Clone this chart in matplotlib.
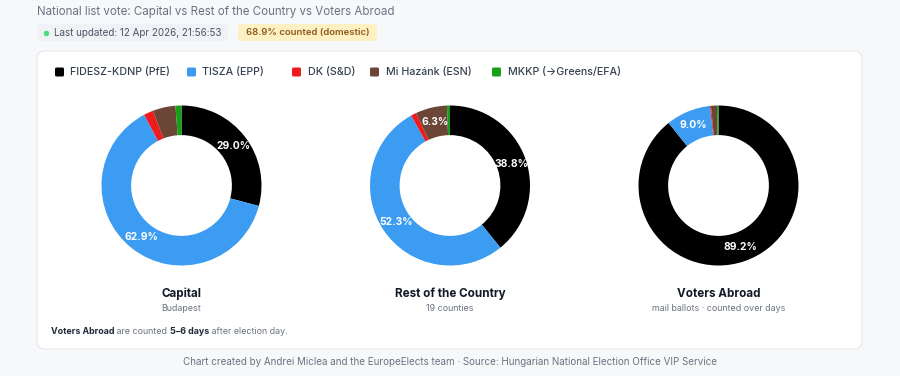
import numpy as np
import matplotlib.pyplot as plt
from matplotlib.patches import FancyBboxPatch

plt.rcParams['font.family'] = ['Inter', 'DejaVu Sans']

# data
parties = ['FIDESZ-KDNP (PfE)', 'TISZA (EPP)', 'DK (S&D)', 'Mi Hazánk (ESN)', 'MKKP (→Greens/EFA)']
colors = ['#000000', '#3b9cf2', '#ee1c1c', '#6b4536', '#16a016']

regions = ['Capital', 'Rest of the Country', 'Voters Abroad']
subtitles = ['Budapest', '19 counties', 'mail ballots · counted over days']

capital = [29.0, 62.9, 1.9, 4.6, 1.2]
rest = [38.8, 52.3, 1.1, 6.3, 0.6]
abroad = [89.2, 9.0, 0.2, 1.2, 0.3]
shares = [capital, rest, abroad]

W, H = 900, 376
fig = plt.figure(figsize=(W / 100, H / 100), dpi=100)
fig.patch.set_facecolor('#f7f8fa')

bg = fig.add_axes([0, 0, 1, 1])
bg.set_xlim(0, W)
bg.set_ylim(H, 0)
bg.axis('off')


def rbox(x0, y0, x1, y1, r, fc, ec='none', lw=0):
    p = FancyBboxPatch((x0, y0), x1 - x0, y1 - y0,
                       boxstyle=f'round,pad=0,rounding_size={r}',
                       fc=fc, ec=ec, lw=lw)
    bg.add_patch(p)


# header
bg.text(37, 12, 'National list vote: Capital vs Rest of the Country vs Voters Abroad',
        fontsize=8.3, color='#6b7280', va='center', ha='left')
rbox(37, 24, 228, 41, 4, '#f0f2f5')
bg.plot([45.5], [32.5], 'o', ms=4, color='#4ade80', mec='none')
bg.text(54, 32.5, 'Last updated: 12 Apr 2026, 21:56:53', fontsize=7.1,
        color='#4b5563', va='center', ha='left')
rbox(238, 24, 377, 41, 4, '#fdf0c2')
bg.text(307.5, 32.5, '68.9% counted (domestic)', fontsize=6.9, fontweight='semibold',
        color='#8f5a1c', va='center', ha='center')

# card
rbox(37, 51, 862, 349, 8, 'white', ec='#e6e8ec', lw=0.8)

# legend
leg_x = [55, 187, 292, 370, 492]
for x, name, c in zip(leg_x, parties, colors):
    bg.add_patch(FancyBboxPatch((x, 67.5), 9, 9, boxstyle='round,pad=0,rounding_size=1.5',
                                fc=c, ec='none'))
    bg.text(x + 15.5, 72, name, fontsize=7.7, fontweight='medium', color='#374151',
            va='center', ha='left')

# donuts
centers = [181.5, 450, 718.5]
cy = 185.5
R = 80
ring = 0.37
for cx, vals, title, sub in zip(centers, shares, regions, subtitles):
    ax = fig.add_axes([(cx - R) / W, 1 - (cy + R) / H, 2 * R / W, 2 * R / H])
    ax.pie(vals, colors=colors, startangle=90, counterclock=False,
           wedgeprops=dict(width=ring, linewidth=0))
    ax.set_xlim(-1, 1)
    ax.set_ylim(-1, 1)
    total = sum(vals)
    cum = 0
    rm = 1 - ring / 2
    for v in vals:
        mid = (cum + v / 2) / total * 2 * np.pi
        cum += v
        if v >= 5:
            ax.text(rm * np.sin(mid), rm * np.cos(mid), f'{v:.1f}%', color='white',
                    fontsize=7.4, fontweight='bold', ha='center', va='center')
    bg.text(cx, 294, title, fontsize=8.4, fontweight='bold', color='#111827',
            ha='center', va='center')
    bg.text(cx, 308.5, sub, fontsize=6.4, color='#6b7280', ha='center', va='center')

# note
x = 51
for txt, w in [('Voters Abroad', 'bold'), (' are counted ', 'normal'),
               ('5–6 days', 'bold'), (' after election day.', 'normal')]:
    t = bg.text(x, 331, txt, fontsize=6.4, fontweight=w,
                color='#1f2937' if w == 'bold' else '#6b7280', ha='left', va='center')
    fig.canvas.draw()
    x += t.get_window_extent().width

bg.text(450, 362, 'Chart created by Andrei Miclea and the EuropeElects team · '
        'Source: Hungarian National Election Office VIP Service',
        fontsize=7.1, color='#6b7280', ha='center', va='center')

fig.savefig('out.png', dpi=100, facecolor=fig.get_facecolor())
